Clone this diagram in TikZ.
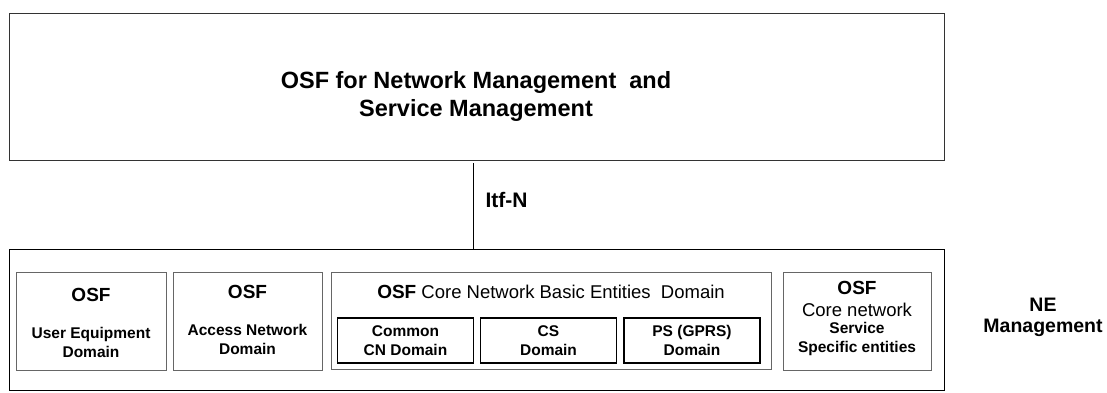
\documentclass[tikz,border=0pt]{standalone}
\usepackage{fontspec}
\setmainfont{Liberation Sans}
\usetikzlibrary{positioning}
\definecolor{boxgray}{rgb}{0.4, 0.4, 0.4}
\newcommand{\osfbig}{\fontsize{19}{22}\selectfont\bfseries}
\newcommand{\osfsmall}{\fontsize{15.5}{19}\selectfont\bfseries}
\newcommand{\osfplain}{\fontsize{18.5}{22}\selectfont\mdseries}
\tikzset{
    frame/.style = {draw, line width = 0.9pt, inner sep = 0pt},
    domainbox/.style = {draw = boxgray, line width = 1pt, inner sep = 0pt, minimum height = 98pt},
    cnbox/.style = {draw, line width = 1.6pt, inner sep = 0pt, minimum width = 136pt, minimum height = 45pt, align = center, font = \osfsmall}
}

\begin{document}
\begin{tikzpicture}[x = 1pt, y = -1pt]
        \useasboundingbox (0,0) rectangle (1107,392);

        \node (topbox) [frame, draw = black!80, minimum width = 935pt, minimum height = 147pt] at (476.5,86.5) {};
        \node (title) [align = center, font = \fontsize{23.5}{28}\selectfont\bfseries] at (476,96.5) {OSF for Network Management\ \ and\\Service Management};

        \node (nebox) [frame, minimum width = 935pt, minimum height = 141pt] at (476.5,319.5) {};
        \coordinate (itftop) at (473,163);
        \draw [line width = 0.8pt] (itftop) -- (itftop |- nebox.north);
        \node (itf) [anchor = west, font = \fontsize{21}{24}\selectfont\bfseries] at (482,200) {Itf-N};

        \node (ue) [domainbox, minimum width = 150pt] at (91,321) {};
        \node (an) [domainbox, minimum width = 149pt] at (247.5,321) {};
        \node (core) [domainbox, minimum width = 440pt, minimum height = 97pt] at (551,320.5) {};
        \node (cns) [domainbox, minimum width = 148pt] at (857,321) {};

        \node (ueosf) [font = \osfbig] at (91,295) {OSF};
        \node (uetext) [align = center, font = \osfsmall] at (91,342.5) {User Equipment\\Domain};
        \node (anosf) [font = \osfbig] at (247.5,292) {OSF};
        \node (antext) [align = center, font = \osfsmall] at (247.5,339) {Access Network\\Domain};
        \node (coretext) [font = \osfplain] at (551,292) {{\osfbig OSF}\ Core Network Basic Entities\ \ Domain};

        \foreach \name/\x/\txt in {common/405.5/{Common\\CN Domain}, cs/548.5/{CS\\Domain}, ps/692/{PS (GPRS)\\Domain}}
        {
            \node (\name) [cnbox] at (\x,340.5) {\txt};
        }

        \node (cnsosf) [font = \osfbig] at (857,288) {OSF};
        \node (cnstext) [font = \osfplain] at (857,310) {Core network};
        \node (cnsservice) [align = center, font = \osfsmall] at (857,338.5) {Service\\Specific entities};

        \node (nemgmt) [align = center, font = \fontsize{19.5}{21.5}\selectfont\bfseries] at (1043,317.5) {NE\\Management};
    \end{tikzpicture}
\end{document}
